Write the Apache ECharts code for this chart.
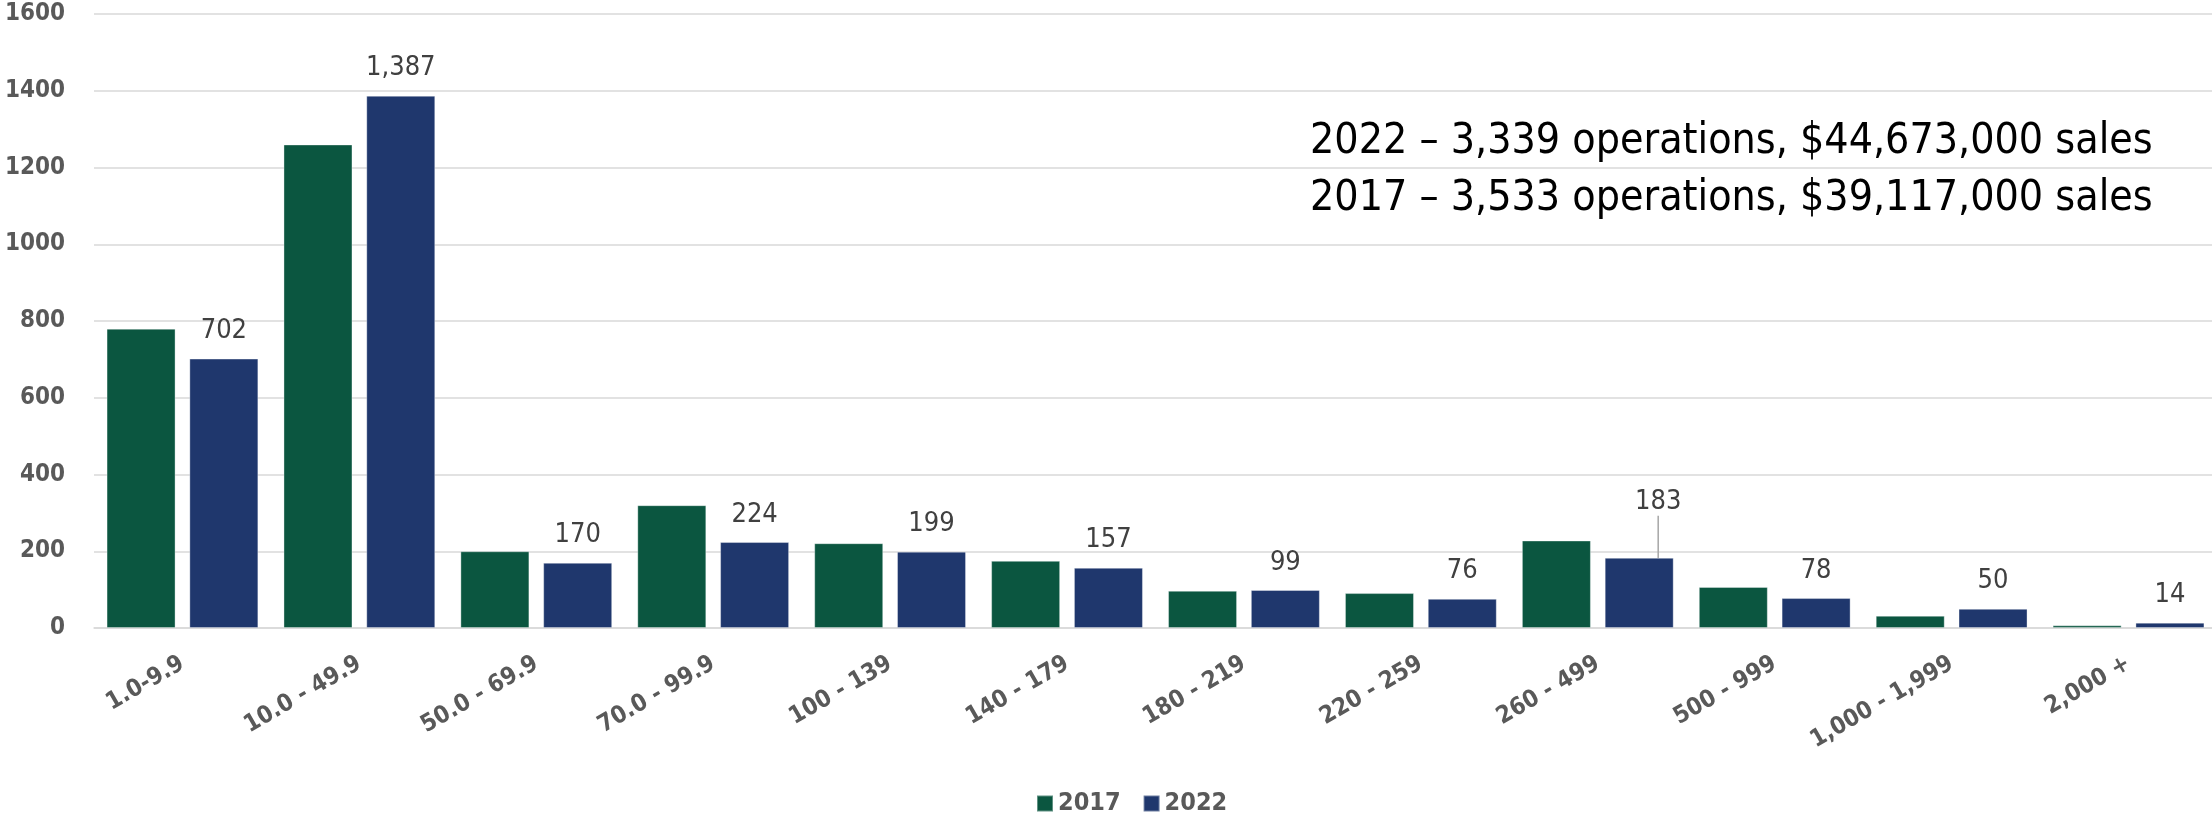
<!DOCTYPE html>
<html><head><meta charset="utf-8">
<script src="https://cdn.jsdelivr.net/npm/echarts@6/dist/echarts.min.js"></script>
<style>html,body{margin:0;padding:0;background:#fff}#c{width:2212px;height:814px}</style>
</head><body><div id="c"></div>
<script>
const categories = ['1.0-9.9','10.0 - 49.9','50.0 - 69.9','70.0 - 99.9','100 - 139','140 - 179','180 - 219','220 - 259','260 - 499','500 - 999','1,000 - 1,999','2,000 +'];
const values2017 = [780,1260,200,320,221,175,97,91,228,107,32,7];
const values2022 = [702,1387,170,224,199,157,99,76,183,78,50,14];
const seriesNames = ['2017','2022'];
const yMin = 0, yMax = 1600, yInterval = 200;
const annotationLines = ['2022 – 3,339 operations, $44,673,000 sales','2017 – 3,533 operations, $39,117,000 sales'];
const movedLabelIndex = 8;

const FONT = "'Liberation Sans Narrow','DejaVu Sans Condensed','Arial Narrow','Roboto Condensed',sans-serif";
const chart = echarts.init(document.getElementById('c'), null, {renderer:'canvas'});
const fmt = v => Number(v).toLocaleString('en-US');

chart.setOption({
  animation:false,
  backgroundColor:'#ffffff',
  textStyle:{fontFamily:FONT},
  grid:{left:94, top:14, width:2123, height:614, outerBoundsMode:'none', containLabel:false},
  legend:{
    data:seriesNames, left:1031, top:786, itemWidth:16, itemHeight:16, itemGap:22,
    icon:'rect',
    textStyle:{fontFamily:FONT, fontSize:25, fontWeight:'bold', color:'#595959'}
  },
  xAxis:{
    type:'category', data:categories,
    axisLine:{show:true, lineStyle:{color:'#d9d9d9', width:1.5}},
    axisTick:{show:false},
    axisLabel:{rotate:30, margin:34, interval:0, fontFamily:FONT, fontSize:24, fontWeight:'bold', color:'#595959'}
  },
  yAxis:{
    type:'value', min:yMin, max:yMax, interval:yInterval,
    axisLine:{show:false}, axisTick:{show:false},
    splitLine:{lineStyle:{color:'#d9d9d9', width:1.5}},
    axisLabel:{margin:29, formatter:v=>String(v), fontFamily:FONT, fontSize:24, fontWeight:'bold', color:'#595959'}
  },
  series:[
    {name:seriesNames[0], type:'bar', data:values2017, barWidth:69, barGap:'20%',
     itemStyle:{color:'#0b5640', borderColor:'rgba(255,255,255,0.35)', borderWidth:1}},
    {name:seriesNames[1], type:'bar', data:values2022.map((v,i)=> i===movedLabelIndex ? {value:v, labelLine:{show:true, lineStyle:{color:'#a6a6a6', width:1.5}}} : v),
     barWidth:69, barGap:'20%',
     itemStyle:{color:'#1f376d', borderColor:'rgba(255,255,255,0.35)', borderWidth:1},
     label:{show:true, position:'top', distance:14, formatter:p=>fmt(p.value), fontFamily:FONT, fontSize:27, color:'#404040'},
     labelLayout:function(p){ return p.dataIndex===movedLabelIndex ? {dx:19, dy:-28} : {}; }
    }
  ],
  graphic:[{
    type:'text', left:1310, top:113,
    style:{text:annotationLines.join('\n'), font:"42.5px "+FONT, lineHeight:57, fill:'#000000'}
  }]
});
</script></body></html>
